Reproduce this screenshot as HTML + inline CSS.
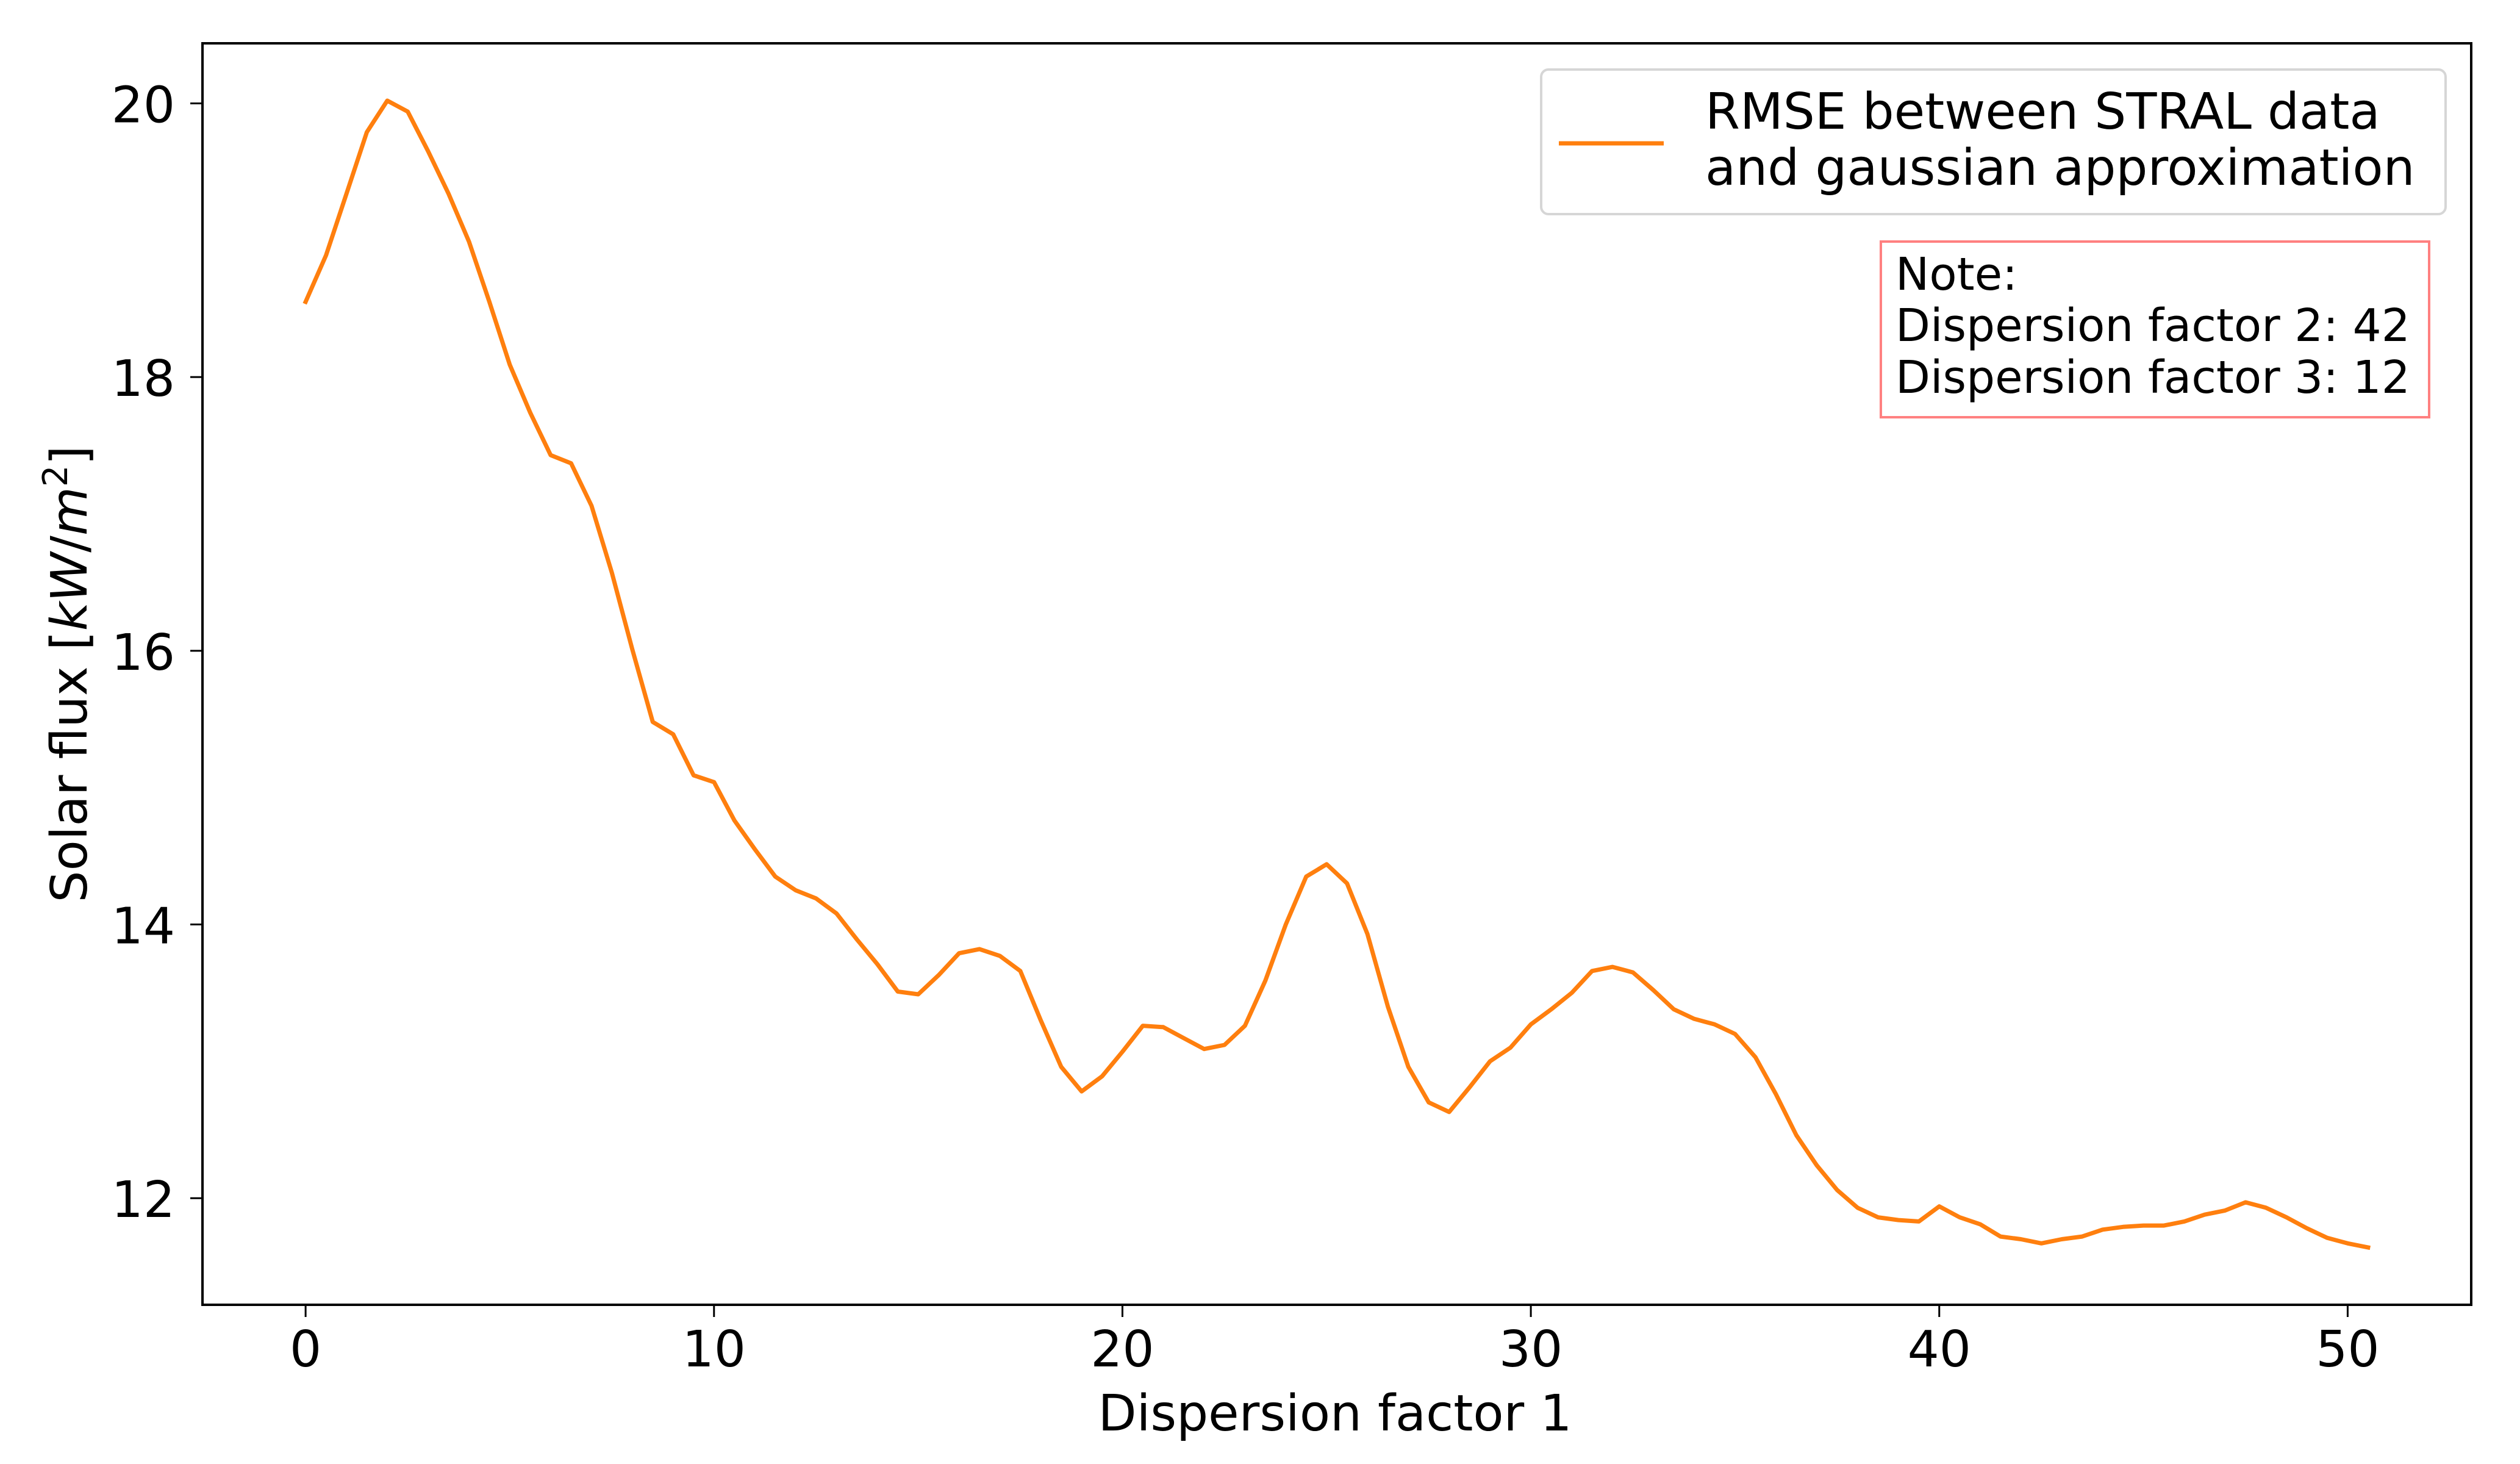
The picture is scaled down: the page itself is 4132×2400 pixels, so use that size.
<!DOCTYPE html>
<html><head><meta charset="utf-8"><style>
html,body{margin:0;padding:0;background:#fff}
svg{display:block}
text{font-family:"DejaVu Sans","Liberation Sans",sans-serif;fill:#000}
</style></head><body>
<svg id="chart" width="4132" height="2400" viewBox="0 0 4132 2400" xmlns="http://www.w3.org/2000/svg">
<rect x="332" y="71" width="3720" height="2068" fill="#fff"/>
<g id="xticks"></g>
<g id="yticks"></g>
<path id="series" fill="none" stroke="#ff7f0e" stroke-width="7" stroke-linejoin="round" stroke-linecap="square"/>
<rect x="332" y="71" width="3720" height="2068" fill="none" stroke="#000" stroke-width="4"/>
<text x="2189" y="2345" font-size="82" text-anchor="middle">Dispersion factor 1</text>
<text transform="translate(142,1105) rotate(-90)" font-size="82" text-anchor="middle">Solar flux [<tspan font-style="italic">kW</tspan>/<tspan font-style="italic">m</tspan><tspan font-size="56" dy="-32">2</tspan><tspan dy="32">]</tspan></text>
<g>
<rect x="2527" y="114" width="1483" height="237" rx="12" fill="#fff" fill-opacity="0.8" stroke="#d6d6d6" stroke-width="4"/>
<line x1="2556" y1="235" x2="2728" y2="235" stroke="#ff7f0e" stroke-width="7"/>
<text x="2796" y="211" font-size="82">RMSE between STRAL data</text>
<text x="2796" y="303" font-size="82">and gaussian approximation</text>
</g>
<g>
<rect x="3084" y="396" width="899" height="288" fill="#fff" stroke="#ff8080" stroke-width="4"/>
<text x="3108" y="475" font-size="74">Note:</text>
<text x="3108" y="559" font-size="74">Dispersion factor 2: 42</text>
<text x="3108" y="644" font-size="74">Dispersion factor 3: 12</text>
</g>
</svg>
<script>
const xValues = [0,0.5,1,1.5,2,2.5,3,3.5,4,4.5,5,5.5,6,6.5,7,7.5,8,8.5,9,9.5,10,10.5,11,11.5,12,12.5,13,13.5,14,14.5,15,15.5,16,16.5,17,17.5,18,18.5,19,19.5,20,20.5,21,21.5,22,22.5,23,23.5,24,24.5,25,25.5,26,26.5,27,27.5,28,28.5,29,29.5,30,30.5,31,31.5,32,32.5,33,33.5,34,34.5,35,35.5,36,36.5,37,37.5,38,38.5,39,39.5,40,40.5,41,41.5,42,42.5,43,43.5,44,44.5,45,45.5,46,46.5,47,47.5,48,48.5,49,49.5,50,50.5];
const rmseValues = [18.55,18.89,19.34,19.79,20.02,19.94,19.65,19.34,18.99,18.55,18.09,17.74,17.43,17.37,17.06,16.57,16.01,15.48,15.39,15.09,15.04,14.76,14.55,14.35,14.25,14.19,14.08,13.89,13.71,13.51,13.49,13.63,13.79,13.82,13.77,13.66,13.30,12.96,12.78,12.89,13.07,13.26,13.25,13.17,13.09,13.12,13.26,13.59,14.00,14.35,14.44,14.30,13.93,13.40,12.96,12.70,12.63,12.81,13.00,13.10,13.27,13.38,13.50,13.66,13.69,13.65,13.52,13.38,13.31,13.27,13.20,13.03,12.76,12.46,12.24,12.06,11.93,11.86,11.84,11.83,11.94,11.86,11.81,11.72,11.70,11.67,11.70,11.72,11.77,11.79,11.80,11.80,11.83,11.88,11.91,11.97,11.93,11.86,11.78,11.71,11.67,11.64];
const xTicks = [0,10,20,30,40,50];
const yTicks = [12,14,16,18,20];

const L=332,R=4052,T=71,B=2139;
const xMin=-2.525,xMax=53.025;
const yMin=Math.min(...rmseValues), yMax=Math.max(...rmseValues);
const yPad=(yMax-yMin)*0.05, y0=yMin-yPad, y1=yMax+yPad;
const sx=v=>L+(v-xMin)/(xMax-xMin)*(R-L);
const sy=v=>B-(v-y0)/(y1-y0)*(B-T);
const NS="http://www.w3.org/2000/svg";

let d="";
xValues.forEach((x,i)=>{d+=(i?"L":"M")+sx(x).toFixed(1)+","+sy(rmseValues[i]).toFixed(1);});
document.getElementById("series").setAttribute("d",d);

const xg=document.getElementById("xticks");
xTicks.forEach(t=>{
  const l=document.createElementNS(NS,"line");
  
  
  l.setAttribute("x1",sx(t));l.setAttribute("x2",sx(t));
  l.setAttribute("y1",B);l.setAttribute("y2",B+20);
  l.setAttribute("stroke","#000");l.setAttribute("stroke-width","3");
  xg.appendChild(l);
  const tx=document.createElementNS(NS,"text");
  
  
  tx.setAttribute("x",sx(t));tx.setAttribute("y",B+101);
  tx.setAttribute("font-size","82");tx.setAttribute("text-anchor","middle");
  tx.textContent=t;xg.appendChild(tx);
});
const yg=document.getElementById("yticks");
yTicks.forEach(t=>{
  const l=document.createElementNS(NS,"line");
  
  
  l.setAttribute("x1",L-20);l.setAttribute("x2",L);
  l.setAttribute("y1",sy(t));l.setAttribute("y2",sy(t));
  l.setAttribute("stroke","#000");l.setAttribute("stroke-width","3");
  yg.appendChild(l);
  const tx=document.createElementNS(NS,"text");
  
  
  tx.setAttribute("x",L-45);tx.setAttribute("y",sy(t)+31);
  tx.setAttribute("font-size","82");tx.setAttribute("text-anchor","end");
  tx.textContent=t;yg.appendChild(tx);
});
</script>
</body></html>
